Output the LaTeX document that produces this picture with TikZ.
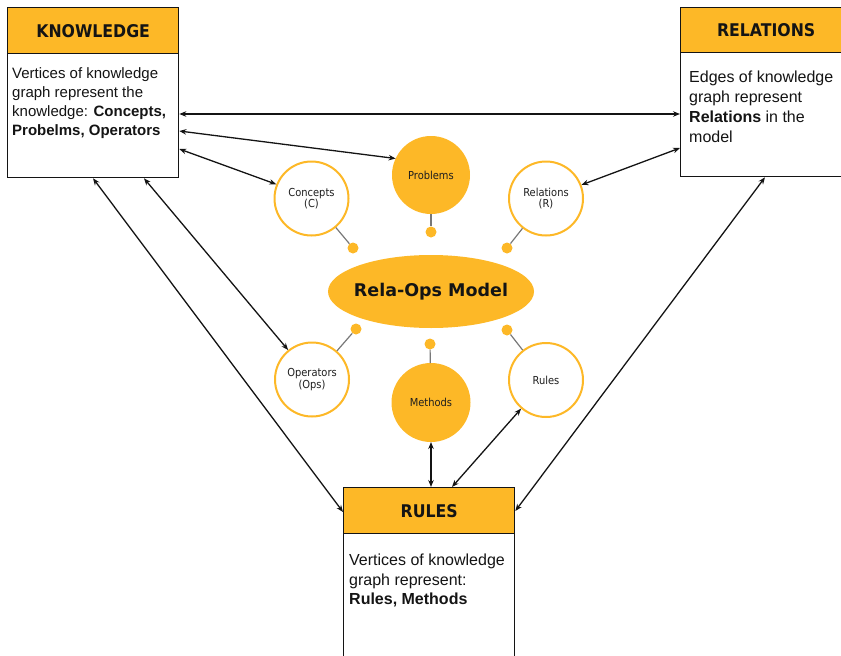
\documentclass[tikz,border=0pt]{standalone}
\usepackage{fontspec}
\setmainfont{Liberation Sans}
\newfontfamily\dvs{DejaVu Sans}
\newfontfamily\dvc{DejaVu Sans Condensed}
\usetikzlibrary{arrows.meta,shapes.geometric,calc}
\definecolor{gold}{RGB}{253,184,39}
\definecolor{ink}{RGB}{20,20,20}
\definecolor{lbl}{RGB}{30,30,30}
\definecolor{stem}{RGB}{120,120,120}
\begin{document}
\begin{tikzpicture}[x=1pt,y=-1pt,
  hdr/.style={draw=ink, line width=1.3pt, fill=gold, minimum width=171pt, inner sep=0, anchor=north west,
    font=\dvc\bfseries\fontsize{17.5}{20}\selectfont, text=ink},
  bodybox/.style={draw=ink, line width=1.3pt, fill=white, minimum width=171pt, inner sep=0, anchor=north west},
  bodytext/.style={anchor=north west, align=left, inner sep=0, text=ink},
  oc/.style={circle, draw=gold, line width=2pt, fill=white, minimum size=74pt, inner sep=0, align=center,
    font=\dvc\fontsize{11}{11.5}\selectfont, text=lbl},
  fc/.style={oc, fill=gold},
  dotn/.style={circle, fill=gold, minimum size=11pt, inner sep=0},
  stemline/.style={draw=stem, line width=1.2pt},
  link/.style={draw=ink, line width=1.3pt, {Stealth[length=7pt,width=5.5pt]}-{Stealth[length=7pt,width=5.5pt]}}
]
\useasboundingbox (0,0) rectangle (841,656);

% boxes
\node[bodybox, minimum height=124pt] (kb) at (7,53) {};
\node[hdr, minimum height=46pt] (kh) at (7,7) {KNOWLEDGE};
\node[bodytext, font=\fontsize{15}{19}\selectfont] (kt) at (12,67)
  {Vertices of knowledge\\graph represent the\\knowledge: \textbf{Concepts,}\\\textbf{Probelms, Operators}};

\node[bodybox, minimum height=124pt] (rb) at (680,52) {};
\node[hdr, minimum height=45pt] (rh0) at (680,7) {RELATIONS};
\node[bodytext, font=\fontsize{16}{20}\selectfont] (rt) at (689,71)
  {Edges of knowledge\\graph represent\\\textbf{Relations} in the\\model};

\node[bodybox, minimum height=125pt] (ub) at (343,533) {};
\node[hdr, minimum height=46pt] (rh) at (343,487) {RULES};
\node[bodytext, font=\fontsize{16}{19.5}\selectfont] (ut) at (349,554)
  {Vertices of knowledge\\graph represent:\\\textbf{Rules, Methods}};

% central model
\node[ellipse, fill=gold, minimum width=206pt, minimum height=73pt, inner sep=0,
  font=\dvs\bfseries\fontsize{17.5}{20}\selectfont, text=ink] (model) at (431,291.5)
  {\makebox[0pt][c]{Rela-Ops Model}};

\node[oc] (conc) at (311.5,198.5) {Concepts\\(C)};
\node[fc, minimum size=76pt] (prob) at (431,175) {Problems};
\node[oc] (rel) at (546,198.5) {Relations\\(R)};
\node[oc] (ops) at (312,379.5) {Operators\\(Ops)};
\node[fc, minimum size=77pt] (meth) at (431,402.5) {Methods};
\node[oc] (rul) at (546,380) {Rules};

\node[dotn] (dc) at (353,248) {};
\node[dotn] (dp) at (431,232) {};
\node[dotn] (dr) at (507,248) {};
\node[dotn] (do) at (356,329) {};
\node[dotn] (dm) at (430,344) {};
\node[dotn] (du) at (507,330) {};

\draw[stemline] (conc) -- (dc);
\draw[stemline] (prob) -- (dp);
\draw[stemline] (rel) -- (dr);
\draw[stemline] (ops) -- (do);
\draw[stemline] (meth) -- (dm);
\draw[stemline] (rul) -- (du);

% connectors
\draw[link] ([yshift=-61pt]kb.north east) -- ([yshift=-62pt]rb.north west);
\draw[link] ([yshift=-78pt]kb.north east) -- (prob.155);
\draw[link] ([yshift=-96pt]kb.north east) -- (conc.158);
\draw[link] ([yshift=-96pt]rb.north west) -- (rel.21);
\draw[link] ([xshift=86pt]kb.south west) -- ([yshift=-25pt]rh.north west);
\draw[link] ([xshift=137pt]kb.south west) -- (ops.129);
\draw[link] ([xshift=85pt]rb.south west) -- ([yshift=-24pt]rh.north east);
\draw[link] (meth.south) -- ([xshift=88pt]rh.north west);
\draw[link] (rul.229) -- ([xshift=109pt]rh.north west);
\end{tikzpicture}
\end{document}
